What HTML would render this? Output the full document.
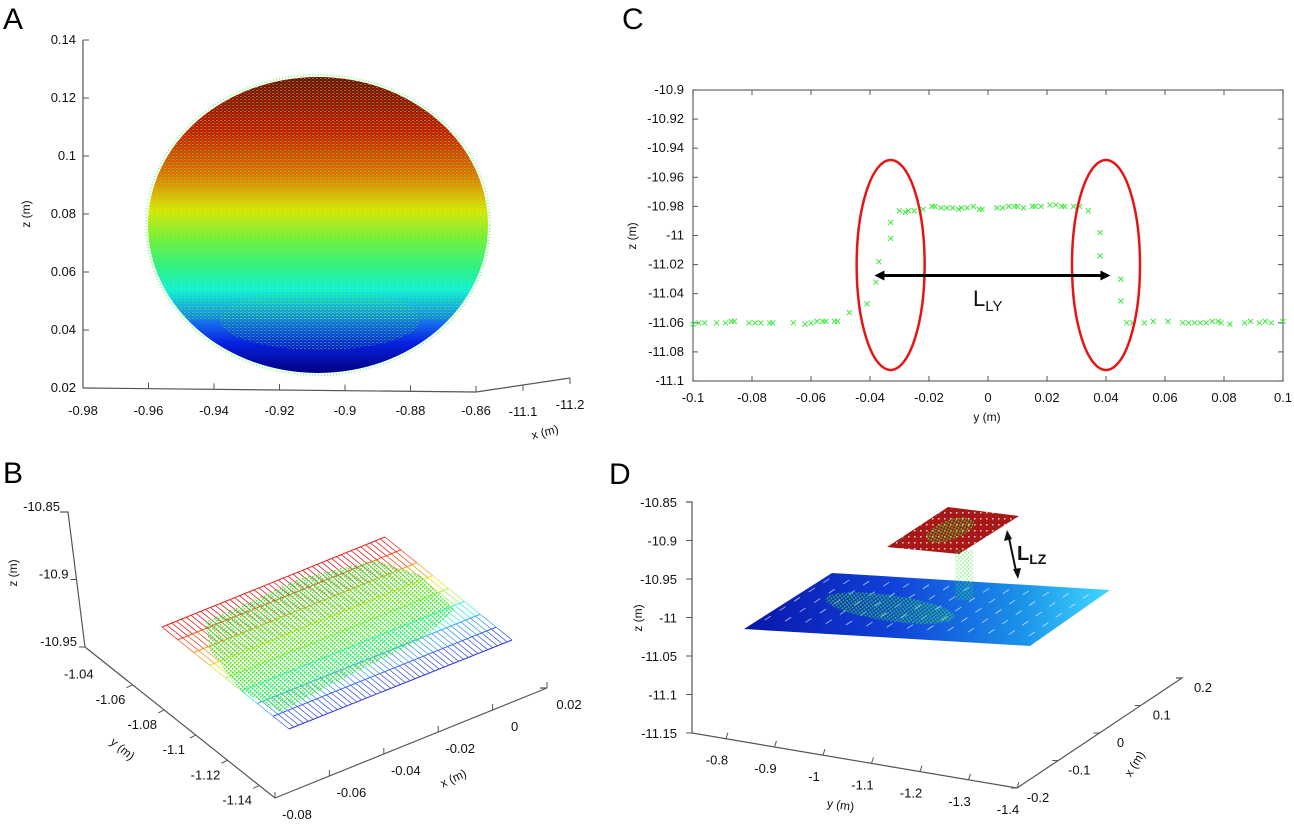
<!DOCTYPE html>
<html><head><meta charset="utf-8"><style>
html,body{margin:0;padding:0;background:#fff}
svg{display:block;font-family:"Liberation Sans",sans-serif}
text{fill:#111}
.t{font-size:13px}
.lbl{font-size:12px}
.let{font-size:30px;fill:#000}
</style></head><body>
<svg id="fig" width="1294" height="827" viewBox="0 0 1294 827">
<defs>
<linearGradient id="sph" x1="0" y1="0" x2="0" y2="1">
<stop offset="0" stop-color="#7a0000"/><stop offset="0.18" stop-color="#d80a00"/>
<stop offset="0.33" stop-color="#f46a00"/><stop offset="0.45" stop-color="#f4e400"/>
<stop offset="0.55" stop-color="#7cf040"/><stop offset="0.64" stop-color="#30f090"/>
<stop offset="0.72" stop-color="#10f0f0"/><stop offset="0.8" stop-color="#1a8cf0"/>
<stop offset="0.9" stop-color="#0820e0"/><stop offset="1" stop-color="#000080"/>
</linearGradient>
<pattern id="gdots" width="4" height="3" patternUnits="userSpaceOnUse">
<rect x="0" y="0" width="2" height="1" fill="#3cff3c"/><rect x="2" y="1.5" width="1.5" height="1" fill="#2ee82e"/>
</pattern>
<pattern id="gdots2" width="4" height="4" patternUnits="userSpaceOnUse">
<rect x="0" y="0" width="1.6" height="1.6" fill="#33ee33"/><rect x="2" y="2" width="1.6" height="1.6" fill="#33ee33"/>
</pattern>
<pattern id="reddots" width="6" height="6" patternUnits="userSpaceOnUse">
<rect width="6" height="6" fill="#a81818"/><rect x="2" y="2" width="1.5" height="1.5" fill="#fff" opacity="0.8"/>
</pattern>
<linearGradient id="blueg" x1="744" y1="0" x2="1110" y2="0" gradientUnits="userSpaceOnUse">
<stop offset="0" stop-color="#0a14a8"/><stop offset="0.4" stop-color="#1040d8"/><stop offset="0.75" stop-color="#1a90e8"/><stop offset="1" stop-color="#40d8ff"/>
</linearGradient>
<clipPath id="sphclip"><ellipse cx="318" cy="225" rx="170" ry="148"/></clipPath>
</defs>

<text class="let" x="3" y="29">A</text>
<text class="let" x="622" y="29">C</text>
<text class="let" x="3" y="483">B</text>
<text class="let" x="609" y="484">D</text>

<g id="panelA">
 <ellipse cx="318" cy="225" rx="170" ry="148" fill="url(#sph)"/>
 <g clip-path="url(#sphclip)">
  <rect x="140" y="75" width="360" height="245" fill="url(#gdots)" opacity="0.55"/>
  <ellipse cx="320" cy="320" rx="100" ry="30" fill="url(#gdots)" opacity="0.5"/>
 </g>
 <ellipse cx="318" cy="225" rx="172" ry="150" fill="none" stroke="#3cff3c" stroke-width="2" stroke-dasharray="1 2" opacity="0.6"/>
</g>
<g id="axesA"></g>

<g id="panelC"></g>

<g id="panelB"></g>

<g id="panelD"></g>
</svg>
<script>
// ---------- Panel A data ----------
const aZTicks = [0.02,0.04,0.06,0.08,0.10,0.12,0.14];
const aZLabels = ["0.02","0.04","0.06","0.08","0.1","0.12","0.14"];
const aXTicks = [-0.98,-0.96,-0.94,-0.92,-0.90,-0.88,-0.86];
const aXLabels = ["-0.98","-0.96","-0.94","-0.92","-0.9","-0.88","-0.86"];
const aDepthTicks = [-11.1,-11.2];
const aDepthLabels = ["-11.1","-11.2"];

// ---------- Panel C data ----------
const cYTicks = [-10.9,-10.92,-10.94,-10.96,-10.98,-11,-11.02,-11.04,-11.06,-11.08,-11.1];
const cYLabels = ["-10.9","-10.92","-10.94","-10.96","-10.98","-11","-11.02","-11.04","-11.06","-11.08","-11.1"];
const cXTicks = [-0.1,-0.08,-0.06,-0.04,-0.02,0,0.02,0.04,0.06,0.08,0.1];
const cXLabels = ["-0.1","-0.08","-0.06","-0.04","-0.02","0","0.02","0.04","0.06","0.08","0.1"];
const cPointY = [-0.1,-0.098,-0.096,-0.092,-0.089,-0.087,-0.086,-0.081,-0.079,-0.077,-0.074,-0.073,-0.066,-0.062,-0.060,-0.058,-0.056,-0.055,-0.052,-0.051,
 -0.047,-0.041,-0.038,-0.037,-0.033,-0.033,-0.030,-0.028,-0.027,-0.025,-0.022,-0.019,-0.018,-0.016,-0.014,-0.012,-0.010,-0.009,-0.007,-0.005,-0.003,-0.002,
 0.003,0.005,0.007,0.009,0.010,0.012,0.015,0.016,0.018,0.021,0.023,0.025,0.026,0.029,0.031,0.034,0.038,0.038,0.045,0.045,0.047,0.049,
 0.053,0.056,0.061,0.066,0.068,0.070,0.072,0.074,0.076,0.078,0.079,0.082,0.087,0.089,0.092,0.094,0.096,0.1];
const cPointZ = [-11.061,-11.06,-11.06,-11.06,-11.06,-11.059,-11.059,-11.06,-11.06,-11.06,-11.06,-11.06,-11.06,-11.061,-11.06,-11.059,-11.059,-11.059,-11.059,-11.059,
 -11.053,-11.047,-11.032,-11.018,-11.002,-10.991,-10.983,-10.984,-10.983,-10.983,-10.982,-10.980,-10.980,-10.981,-10.981,-10.981,-10.982,-10.981,-10.981,-10.980,-10.982,-10.982,
 -10.981,-10.981,-10.980,-10.980,-10.980,-10.981,-10.980,-10.980,-10.980,-10.979,-10.979,-10.980,-10.980,-10.980,-10.980,-10.983,-10.998,-11.014,-11.030,-11.045,-11.060,-11.060,
 -11.060,-11.059,-11.059,-11.060,-11.060,-11.060,-11.060,-11.060,-11.059,-11.059,-11.060,-11.061,-11.060,-11.059,-11.060,-11.059,-11.060,-11.059];
const cEllipseCenters = [-0.033, 0.040];
const cArrowFrom = -0.0385, cArrowTo = 0.0415, cArrowZ = -11.0275;

// ---------- Panel B data ----------
const bZTicks = [-10.85,-10.9,-10.95];
const bZLabels = ["-10.85","-10.9","-10.95"];
const bYTicks = [-1.04,-1.06,-1.08,-1.1,-1.12,-1.14];
const bYLabels = ["-1.04","-1.06","-1.08","-1.1","-1.12","-1.14"];
const bXTicks = [-0.08,-0.06,-0.04,-0.02,0,0.02];
const bXLabels = ["-0.08","-0.06","-0.04","-0.02","0","0.02"];

// ---------- Panel D data ----------
const dZTicks = [-10.85,-10.9,-10.95,-11,-11.05,-11.1,-11.15];
const dZLabels = ["-10.85","-10.9","-10.95","-11","-11.05","-11.1","-11.15"];
const dYTicks = [-0.8,-0.9,-1,-1.1,-1.2,-1.3,-1.4];
const dYLabels = ["-0.8","-0.9","-1","-1.1","-1.2","-1.3","-1.4"];
const dXTicks = [-0.2,-0.1,0,0.1,0.2];
const dXLabels = ["-0.2","-0.1","0","0.1","0.2"];

const NS="http://www.w3.org/2000/svg";
function mk(tag, attrs, parent){const e=document.createElementNS(NS,tag);for(const k in attrs)e.setAttribute(k,attrs[k]);parent.appendChild(e);return e;}
function lerp(a,b,t){return a+(b-a)*t;}

// ===== Panel A axes =====
(function(){
 const g=document.getElementById('axesA');
 const zs=v=>388-(v-0.02)/0.12*348;
 const xs=v=>83+(v+0.98)/0.12*393;
 const ln=mk('line',{x1:83,y1:40,x2:83,y2:388,stroke:'#555','stroke-width':1.2},g);
 
 
 const lx=mk('polyline',{points:'83,388 476,392 570,378',fill:'none',stroke:'#555','stroke-width':1.2},g);
 
 
 aZTicks.forEach((v,i)=>{const y=zs(v);mk('line',{x1:83,y1:y,x2:89,y2:y,stroke:'#555'},g);
  const t=mk('text',{x:76,y:y+4,'text-anchor':'end',class:'t'},g);t.textContent=aZLabels[i];
  
  });
 aXTicks.forEach((v,i)=>{const x=xs(v);const y=388+(x-83)/393*4;mk('line',{x1:x,y1:y,x2:x,y2:y-6,stroke:'#555'},g);
  const t=mk('text',{x:x,y:415,'text-anchor':'middle',class:'t'},g);t.textContent=aXLabels[i];
  
  });
 aDepthTicks.forEach((v,i)=>{const f=(v+11.0)/(-0.2);const x=lerp(476,570,f),y=lerp(392,378,f);
  mk('line',{x1:x,y1:y,x2:x,y2:y+6,stroke:'#555'},g);
  const t=mk('text',{x:x,y:y+31,'text-anchor':'middle',class:'t'},g);t.textContent=aDepthLabels[i];
  
  });
 const zt=mk('text',{x:0,y:0,transform:'translate(30,214) rotate(-90)','text-anchor':'middle',class:'lbl'},g);zt.textContent='z (m)';
 
 
 const xt=mk('text',{x:0,y:0,transform:'translate(546,436) rotate(-15)','text-anchor':'middle',class:'lbl'},g);xt.textContent='x (m)';
 
 
})();

// ===== Panel C =====
(function(){
 const g=document.getElementById('panelC');
 const L=693,R=1283,T=90,B=381;
 const xs=v=>L+(v+0.1)/0.2*(R-L);
 const ys=v=>T+(-10.9-v)/0.2*(B-T);
 const box=mk('rect',{x:L,y:T,width:R-L,height:B-T,fill:'none',stroke:'#666','stroke-width':1.2},g);
 
 
 cYTicks.forEach((v,i)=>{const y=ys(v);mk('line',{x1:L,y1:y,x2:L+5,y2:y,stroke:'#555'},g);mk('line',{x1:R,y1:y,x2:R-5,y2:y,stroke:'#555'},g);
  const t=mk('text',{x:684,y:y+4,'text-anchor':'end',class:'t'},g);t.textContent=cYLabels[i];
  
  });
 cXTicks.forEach((v,i)=>{const x=xs(v);mk('line',{x1:x,y1:B,x2:x,y2:B-5,stroke:'#555'},g);mk('line',{x1:x,y1:T,x2:x,y2:T+5,stroke:'#555'},g);
  const t=mk('text',{x:x,y:402,'text-anchor':'middle',class:'t'},g);t.textContent=cXLabels[i];
  
  });
 const xt=mk('text',{x:987,y:421,'text-anchor':'middle',class:'lbl'},g);xt.textContent='y (m)';
 
 
 const zt=mk('text',{x:0,y:0,transform:'translate(636,236) rotate(-90)','text-anchor':'middle',class:'lbl'},g);zt.textContent='z (m)';
 
 
 cPointY.forEach((v,i)=>{const x=xs(v),y=ys(cPointZ[i]);
  const p=mk('path',{d:`M${x-2.5},${y-2.5}L${x+2.5},${y+2.5}M${x-2.5},${y+2.5}L${x+2.5},${y-2.5}`,stroke:'#3ee83e','stroke-width':1},g);
  
  });
 cEllipseCenters.forEach(v=>{const e=mk('ellipse',{cx:xs(v),cy:265,rx:34,ry:105,fill:'none',stroke:'#e51515','stroke-width':2.5},g);
  
  });
 const ay=ys(cArrowZ),x1=xs(cArrowFrom),x2=xs(cArrowTo);
 const ar=mk('path',{d:`M${x1+8},${ay}L${x2-8},${ay}`,stroke:'#000','stroke-width':3},g);
 
 
 mk('path',{d:`M${x1},${ay}L${x1+10},${ay-5}L${x1+10},${ay+5}Z`,fill:'#000'},g);
 mk('path',{d:`M${x2},${ay}L${x2-10},${ay-5}L${x2-10},${ay+5}Z`,fill:'#000'},g);
 const lt=mk('text',{x:973,y:306,style:'font-size:22px'},g);lt.innerHTML='L<tspan style="font-size:15px" dy="5">LY</tspan>';
 
 
})();

// ===== Panel B =====
(function(){
 const g=document.getElementById('panelB');
 const zb=mk('polyline',{points:'60,512 68,512 85,647 275,798 547,688 540,688',fill:'none',stroke:'#555','stroke-width':1.2},g);
 
 
 bZTicks.forEach((v,i)=>{const f=(-10.85-v)/0.1;const x=lerp(68,85,f),y=lerp(512,647,f);
  mk('line',{x1:x-6,y1:y,x2:x,y2:y,stroke:'#555'},g);
  const t=mk('text',{x:x-8,y:y-1,'text-anchor':'end',class:'t'},g);t.textContent=bZLabels[i];
  
  });
 bYTicks.forEach((v,i)=>{const f=(-1.03-v)/0.12;const x=lerp(85,275,f),y=lerp(647,798,f);
  if(i>0)mk('line',{x1:x,y1:y,x2:x-6,y2:y+3,stroke:'#555'},g);
  const t=mk('text',{x:x-22,y:y+19,'text-anchor':'middle',class:'t'},g);t.textContent=bYLabels[i];
  
  });
 bXTicks.forEach((v,i)=>{const f=(v+0.08)/0.1;const x=lerp(275,547,f),y=lerp(798,688,f);
  mk('line',{x1:x,y1:y,x2:x,y2:y-6,stroke:'#555'},g);
  const t=mk('text',{x:x+22,y:y+21,'text-anchor':'middle',class:'t'},g);t.textContent=bXLabels[i];
  
  });
 const yt=mk('text',{x:0,y:0,transform:'translate(120,752) rotate(40)','text-anchor':'middle',class:'lbl'},g);yt.textContent='y (m)';
 
 
 const xt=mk('text',{x:0,y:0,transform:'translate(455,782) rotate(-25)','text-anchor':'middle',class:'lbl'},g);xt.textContent='x (m)';
 
 
 const zt=mk('text',{x:0,y:0,transform:'translate(17,573) rotate(-90)','text-anchor':'middle',class:'lbl'},g);zt.textContent='z (m)';
 
 
 const P00=[162,627],P10=[385,537],P01=[289,729],P11=[512,640];
 const P=(u,v)=>[lerp(lerp(P00[0],P10[0],u),lerp(P01[0],P11[0],u),v),lerp(lerp(P00[1],P10[1],u),lerp(P01[1],P11[1],u),v)];
 const cols=['#e02020','#f05020','#f0a020','#f0e020','#a0f060','#40f0e0','#40a0f0','#4060e0','#3030d0'];
 const mesh=mk('g',{},g);
 
 
 const NV=8,NU=46;
 for(let j=0;j<=NV;j++){const a=P(0,j/NV),b=P(1,j/NV);mk('line',{x1:a[0],y1:a[1],x2:b[0],y2:b[1],stroke:cols[j],'stroke-width':1},mesh);}
 for(let j=0;j<NV;j++)for(let i=0;i<=NU;i++){const a=P(i/NU,j/NV),b=P(i/NU,(j+1)/NV);
  mk('line',{x1:a[0],y1:a[1],x2:b[0],y2:b[1],stroke:cols[j],'stroke-width':0.8},mesh);}
 const cl=mk('polygon',{points:'205,622 300,578 375,560 420,575 455,610 420,640 330,685 280,712 240,690 210,650',fill:'url(#gdots2)',opacity:0.95},g);
 
 
})();

// ===== Panel D =====
(function(){
 const g=document.getElementById('panelD');
 const ax=mk('polyline',{points:'686,502 692,502 692,733 1017,788 1182,678 1176,678',fill:'none',stroke:'#555','stroke-width':1.2},g);
 
 
 dZTicks.forEach((v,i)=>{const y=lerp(502,733,(-10.85-v)/0.3);
  mk('line',{x1:686,y1:y,x2:692,y2:y,stroke:'#555'},g);
  const t=mk('text',{x:677,y:y+5,'text-anchor':'end',class:'t'},g);t.textContent=dZLabels[i];
  
  });
 dYTicks.forEach((v,i)=>{const f=(-0.73-v)/0.67;const x=lerp(692,1017,f),y=lerp(733,788,f);
  mk('line',{x1:x,y1:y,x2:x+2,y2:y-6,stroke:'#555'},g);
  const t=mk('text',{x:x-9,y:y+26,'text-anchor':'middle',class:'t'},g);t.textContent=dYLabels[i];
  
  });
 dXTicks.forEach((v,i)=>{const f=(v+0.2)/0.4;const x=lerp(1017,1182,f),y=lerp(788,678,f);
  mk('line',{x1:x,y1:y,x2:x-6,y2:y,stroke:'#555'},g);
  const t=mk('text',{x:x+21,y:y+14,'text-anchor':'middle',class:'t'},g);t.textContent=dXLabels[i];
  
  });
 const yt=mk('text',{x:0,y:0,transform:'translate(840,809) rotate(8)','text-anchor':'middle',class:'lbl'},g);yt.textContent='y (m)';
 
 
 const xt=mk('text',{x:0,y:0,transform:'translate(1138,766) rotate(-58)','text-anchor':'middle',class:'lbl'},g);xt.textContent='x (m)';
 
 
 const zt=mk('text',{x:0,y:0,transform:'translate(642,618) rotate(-90)','text-anchor':'middle',class:'lbl'},g);zt.textContent='z (m)';
 
 
 const bp=mk('polygon',{points:'744,629 832,573 1110,590 1030,646',fill:'url(#blueg)'},g);
 
 
 for(let j=1;j<6;j++)for(let i=0;i<14;i++){const u=(i+0.3)/14,v=j/6;
  const x=lerp(lerp(832,1110,u),lerp(744,1030,u),v), y=lerp(lerp(573,590,u),lerp(629,646,u),v);
  mk('line',{x1:x,y1:y,x2:x+6,y2:y-4,stroke:'#fff','stroke-width':0.8,opacity:0.7},g);}
 const rp=mk('polygon',{points:'887,547 948,507 1019,516 959,554',fill:'url(#reddots)'},g);
 
 
 const c1=mk('ellipse',{cx:890,cy:608,rx:65,ry:13,transform:'rotate(8 890 608)',fill:'url(#gdots2)',opacity:0.8},g);
 
 
 const c2=mk('ellipse',{cx:950,cy:530,rx:25,ry:10,transform:'rotate(-20 950 530)',fill:'url(#gdots2)',opacity:0.8},g);
 
 
 const c3=mk('rect',{x:955,y:550,width:18,height:50,fill:'url(#gdots2)',opacity:0.5},g);
 
 
 const ar=mk('path',{d:'M1009,538L1016,571',stroke:'#111','stroke-width':2},g);
 
 
 mk('path',{d:'M1007,530L1004,541L1012,539Z',fill:'#111'},g);
 mk('path',{d:'M1018,579L1013,569L1021,568Z',fill:'#111'},g);
 const lt=mk('text',{x:1017,y:560,style:'font-size:20px;font-weight:bold'},g);lt.innerHTML='L<tspan style="font-size:14px" dy="4">LZ</tspan>';
 
 
})();
</script>
</body></html>
